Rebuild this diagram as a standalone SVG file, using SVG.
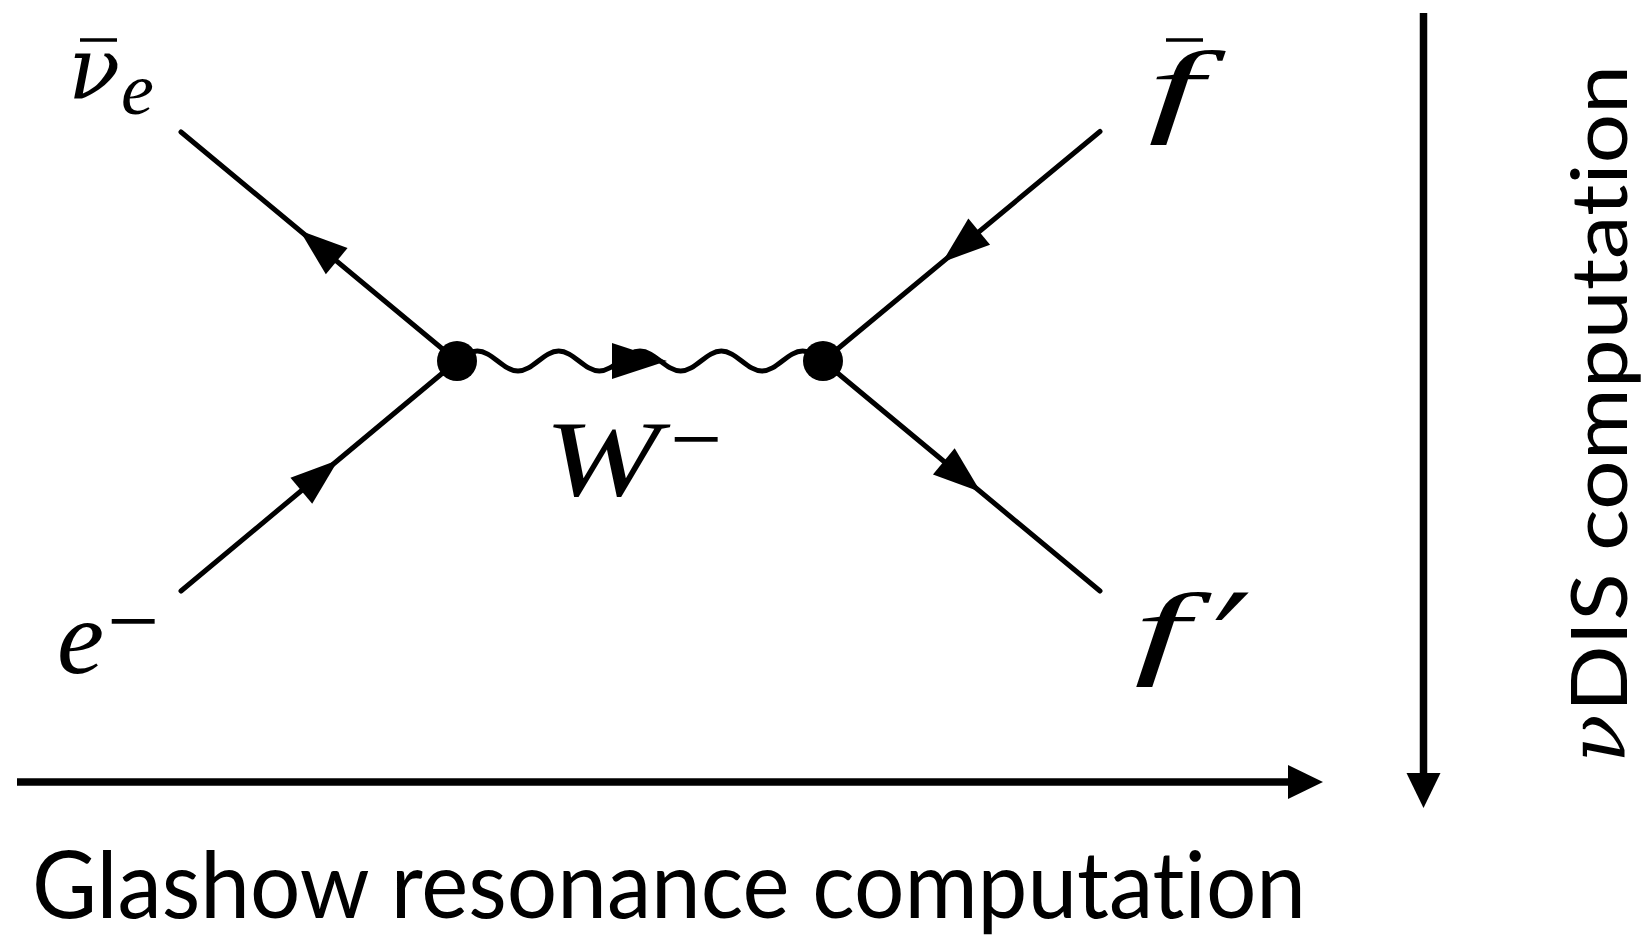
<svg xmlns="http://www.w3.org/2000/svg" width="1645" height="935" viewBox="0 0 1645 935">
<style>
.math{font-family:"Liberation Serif","DejaVu Serif",serif;font-style:italic;fill:#000}
.mathd{font-family:"DejaVu Serif","Liberation Serif",serif;font-style:italic;fill:#000}
.minus{font-family:"Liberation Serif","DejaVu Serif",serif;font-style:normal;fill:#000}
.prime{font-family:"DejaVu Serif","Liberation Serif",serif;font-style:normal;fill:#000}
.sans{font-family:Lato,"Open Sans","Liberation Sans",sans-serif;fill:#000;font-variant-ligatures:none;font-feature-settings:"liga" 0,"clig" 0,"dlig" 0}
.fermion{stroke:#000;stroke-width:5;stroke-linecap:round;fill:none;marker-mid:url(#fArrow)}
.boson{stroke:#000;stroke-width:5;fill:none}
.axis{stroke:#000;stroke-width:7.5;fill:none;marker-end:url(#axArrow)}
.bar{stroke:#000;stroke-width:3.5}
</style>
<defs>
<marker id="fArrow" markerUnits="userSpaceOnUse" viewBox="-26 -20 52 40" markerWidth="52" markerHeight="40" refX="0" refY="0" orient="auto">
<path d="M25,0 L-23,-17 L-23,17 Z" fill="#000"/>
</marker>
<marker id="axArrow" markerUnits="userSpaceOnUse" viewBox="0 -18 36 36" markerWidth="36" markerHeight="36" refX="0" refY="0" orient="auto">
<path d="M0,-17 L35,0 L0,17 Z" fill="#000"/>
</marker>
</defs>

<g id="connectors">
<path id="nu-line" class="fermion" d="M457,361 L319,246.5 L181,132"/>
<path id="e-line" class="fermion" d="M181,591 L319,476 L457,361"/>
<path id="fbar-line" class="fermion" d="M1100,131.5 L961.5,246.25 L823,361"/>
<path id="fprime-line" class="fermion" d="M823,361 L961.5,476 L1100,591"/>
<path id="w-boson" class="boson" d="M457,361 c6.632,-5.123 12.975,-10 20.333,-10 c7.358,0 13.701,4.877 20.333,10 c6.632,5.123 12.975,10 20.333,10 c7.358,0 13.701,-4.877 20.333,-10 c6.632,-5.123 12.975,-10 20.333,-10 c7.358,0 13.701,4.877 20.333,10 c6.632,5.123 12.975,10 20.333,10 c7.358,0 13.701,-4.877 20.333,-10 c6.632,-5.123 12.975,-10 20.333,-10 c7.358,0 13.701,4.877 20.333,10 c6.632,5.123 12.975,10 20.333,10 c7.358,0 13.701,-4.877 20.333,-10 c6.632,-5.123 12.975,-10 20.333,-10 c7.358,0 13.701,4.877 20.333,10 c6.632,5.123 12.975,10 20.333,10 c7.358,0 13.701,-4.877 20.333,-10 c6.632,-5.123 12.975,-10 20.333,-10 c7.358,0 13.701,4.877 20.333,10"/>
<path id="w-arrow" d="M667,361 L612,343 L612,379 Z" fill="#000"/>
<path id="glashow-axis" class="axis" d="M17,782 L1288,782"/>
<path id="dis-axis" class="axis" d="M1423.5,13 L1423.5,773"/>
</g>

<g id="vertex-left"><circle cx="457" cy="361" r="20" fill="#000"/></g>
<g id="vertex-right"><circle cx="823" cy="361" r="20" fill="#000"/></g>

<g id="label-nubar-e">
<line class="bar" x1="80" y1="40" x2="117" y2="40"/>
<text class="mathd" x="68" y="98" style="font-size:86px">ν</text>
<text class="math" x="121" y="114" style="font-size:74px">e</text>
</g>

<g id="label-e-minus">
<text class="math" x="57" y="673" style="font-size:106px">e</text>
<text class="minus" x="107" y="653" style="font-size:96px" textLength="52" lengthAdjust="spacingAndGlyphs">−</text>
</g>

<g id="label-w-minus">
<text class="math" x="544" y="495" style="font-size:108px" textLength="116" lengthAdjust="spacingAndGlyphs">W</text>
<text class="minus" x="670" y="471" style="font-size:96px" textLength="52" lengthAdjust="spacingAndGlyphs">−</text>
</g>

<g id="label-fbar">
<line class="bar" x1="1166" y1="40" x2="1203" y2="40"/>
<text class="math" x="1148" y="123" style="font-size:104px" textLength="55" lengthAdjust="spacingAndGlyphs">f</text>
</g>

<g id="label-fprime">
<text class="math" x="1134" y="665" style="font-size:104px" textLength="55" lengthAdjust="spacingAndGlyphs">f</text>
<text class="prime" transform="translate(1195,702) skewX(-12)" x="0" y="0" style="font-size:150px">′</text>
</g>

<g id="label-glashow">
<text class="sans" x="32" y="918" style="font-size:93px" textLength="1274" lengthAdjust="spacingAndGlyphs">Glashow resonance computation</text>
</g>

<g id="label-dis" transform="translate(1625,763) rotate(-90)">
<text class="mathd" x="0" y="0" style="font-size:80px">ν</text>
<text class="sans" x="51" y="2" style="font-size:78px" textLength="647" lengthAdjust="spacingAndGlyphs">DIS computation</text>
</g>
</svg>
